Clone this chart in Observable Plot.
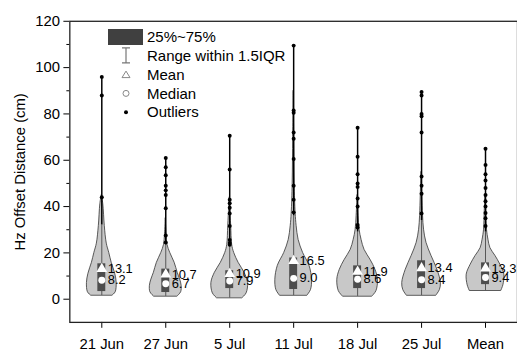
<!DOCTYPE html>
<html><head><meta charset="utf-8">
<script src="https://cdn.jsdelivr.net/npm/d3@7"></script>
<script src="https://cdn.jsdelivr.net/npm/@observablehq/plot@0.6"></script>
<style>
body{margin:0;background:#fff;overflow:hidden;font-family:"Liberation Sans",Arial,sans-serif}
#wrap{position:relative;width:517px;height:355px;overflow:hidden;background:#fff}
#legend{position:absolute;left:0;top:0;pointer-events:none}
</style></head><body>
<div id="wrap"><div id="chart"></div><svg id="legend" width="517" height="355"></svg></div>
<script>
// ---- data ----
const categories = ["21 Jun", "27 Jun", "5 Jul", "11 Jul", "18 Jul", "25 Jul", "Mean"];
const minValues    = [1.6, 1.2, 0.5, 1.6, 1.2, 1.6, 3.7];
const q1Values     = [3.3, 2.9, 4.6, 4.2, 4.6, 4.6, 6.3];
const medianValues = [8.2, 6.7, 7.9, 9.0, 8.6, 8.4, 9.4];
const meanValues   = [13.1, 10.7, 10.9, 16.5, 11.9, 13.4, 13.3];
const q3Values     = [15.3, 13.0, 12.3, 17.8, 14.4, 16.6, 15.7];
const whiskerHigh  = [32, 23.5, 23, 36, 29, 34, 29];
const maxValues    = [96, 61, 70.6, 109.5, 74, 89.5, 65];

const outliers21Jun = [44, 88, 96];
const outliers27Jun = [24.5, 27.5, 39.3, 45, 47, 49, 53.5, 57, 61];
const outliers5Jul  = [23.5, 24.3, 25.6, 31.6, 37, 39.5, 41.4, 43, 56, 70.6];
const outliers11Jul = [37.5, 43, 49, 60.5, 69.3, 72, 80.5, 81.5, 109.5];
const outliers18Jul = [31, 32, 40, 43.5, 48.5, 50, 54, 61.5, 74];
const outliers25Jul = [37, 45.5, 49, 53, 72, 79, 80, 88, 89.5];
const outliersMean  = [31.6, 35, 37.2, 40, 42.3, 45, 48, 51.3, 54, 58, 65];
const outlierLists = [outliers21Jun, outliers27Jun, outliers5Jul, outliers11Jul, outliers18Jul, outliers25Jul, outliersMean];

// violin profiles: [value, density]
const violin21Jun = [[1.6,11],[3,14],[7,15],[11,13.5],[15.7,10],[20,7.5],[24,5],[31.6,3],[41,1.5],[45,0]];
const violin27Jun = [[1.2,12],[3,15.5],[5.8,16],[8.5,14.5],[11.4,12],[15.7,9],[20,4.5],[23.4,1.8],[28,0.8],[35,0]];
const violin5Jul  = [[0.5,13],[2.5,17],[7,18.5],[11.4,15],[15.7,9],[20,4.5],[23.4,2.5],[31.6,1.5],[40,0.5],[44,0]];
const violin11Jul = [[1.6,14],[4,17.5],[8.4,18.5],[14.4,16],[20,9.5],[25.6,5],[31.6,3],[37,2],[50,1],[70,0.5],[90,0]];
const violin18Jul = [[1.2,15],[3.5,19],[8.4,20.5],[12.7,18],[17,13],[21.3,7],[25.6,4],[30,2],[36,1],[45,0]];
const violin25Jul = [[1.6,15],[4,18.5],[7,19.5],[12.7,16],[18.7,10],[24.3,5],[30,2.5],[36,1.5],[45,0.8],[55,0]];
const violinMean  = [[3.7,16],[6,18],[10.6,19],[14.9,15],[18.7,10],[22,5],[25.6,3],[30,1.5],[38,0.8],[45,0]];
const violinLists = [violin21Jun, violin27Jun, violin5Jul, violin11Jul, violin18Jul, violin25Jul, violinMean];

const yMajorTicks = [0, 20, 40, 60, 80, 100, 120];
const yMinorTicks = [10, 30, 50, 70, 90, 110];
const legendLabels = ["25%~75%", "Range within 1.5IQR", "Mean", "Median", "Outliers"];

// ---- tables ----
const densityUnit = 64.5;   // density units per category step
const boxHalf = 4 / densityUnit;
const stats = categories.map((c, i) => ({
  cat: c, xi: i, min: minValues[i], q1: q1Values[i], median: medianValues[i],
  mean: meanValues[i], q3: q3Values[i], hi: whiskerHigh[i], max: maxValues[i]
}));
const outlierRows = outlierLists.flatMap((arr, i) => arr.map(v => ({cat: categories[i], xi: i, v})));
const violinRows = violinLists.flatMap((arr, i) => arr.map(([v, w]) => ({cat: categories[i], xi: i, v, w: w / densityUnit})));

const chart = Plot.plot({
  width: 522, height: 355,
  marginLeft: 70, marginRight: 0, marginTop: 21, marginBottom: 30,
  style: {fontFamily: "'Liberation Sans', Arial, sans-serif", fontSize: "15px", color: "#000", background: "transparent"},
  x: {domain: [-0.5, 6.5]},
  y: {domain: [-10, 120]},
  marks: [
    Plot.axisY({ticks: yMinorTicks, tickSize: 3, tickFormat: () => "", label: null}),
    Plot.axisY({ticks: yMajorTicks, tickSize: 6, tickPadding: 4, label: "Hz Offset Distance (cm)",
      labelAnchor: "center", labelArrow: "none", labelOffset: 56}),
    Plot.axisX({ticks: d3.range(categories.length), tickFormat: i => categories[i], tickSize: 6, tickPadding: 10, label: null}),
    Plot.areaX(violinRows, {y: "v", x1: d => d.xi - d.w, x2: d => d.xi + d.w, z: "cat",
      curve: "catmull-rom", fill: "#c8c8c8", stroke: "#333", strokeWidth: 0.8}),
    Plot.ruleX(stats, {x: "xi", y1: "min", y2: "hi", stroke: "#555", strokeWidth: 1}),
    Plot.ruleX(stats, {x: "xi", y1: "hi", y2: "max", stroke: "#000", strokeWidth: 1.5}),
    Plot.dot(outlierRows, {x: "xi", y: "v", r: 2, fill: "#000"}),
    Plot.rect(stats, {x1: d => d.xi - boxHalf, x2: d => d.xi + boxHalf, y1: "q1", y2: "q3", fill: "#4d4d4d"}),
    Plot.dot(stats, {x: "xi", y: "mean", symbol: "triangle", r: 4, fill: "#fff"}),
    Plot.dot(stats, {x: "xi", y: "median", r: 3.5, fill: "#fff"}),
    Plot.text(stats, {x: "xi", y: "mean", text: d => d.mean.toFixed(1), dx: 6, textAnchor: "start", fontSize: 13}),
    Plot.text(stats, {x: "xi", y: "median", text: d => d.median.toFixed(1), dx: 6, textAnchor: "start", fontSize: 13}),
    Plot.frame({stroke: "#222", strokeWidth: 1.3})
  ]
});
document.getElementById("chart").appendChild(chart);

// ---- legend ----
const lg = d3.select("#legend");
const lx = 126, ly0 = 37, step = 18.8;
lg.append("rect").attr("x", 108).attr("y", 29).attr("width", 35).attr("height", 16).attr("fill", "#404040");
const iy = ly0 + step;
lg.append("path").attr("d", `M${lx-4},${iy-8}H${lx+4}M${lx},${iy-8}V${iy+7}M${lx-4},${iy+7}H${lx+4}`)
  .attr("stroke", "#777").attr("stroke-width", 1.2).attr("fill", "none");
const ty = ly0 + 2 * step;
lg.append("path").attr("d", `M${lx},${ty-3.5}L${lx+4},${ty+3}L${lx-4},${ty+3}Z`).attr("fill", "none").attr("stroke", "#888");
lg.append("circle").attr("cx", lx).attr("cy", ly0 + 3 * step).attr("r", 3).attr("fill", "none").attr("stroke", "#888");
lg.append("circle").attr("cx", lx).attr("cy", ly0 + 4 * step).attr("r", 2).attr("fill", "#000");
legendLabels.forEach((t, i) => {
  lg.append("text").attr("x", 147).attr("y", ly0 + i * step).attr("dy", "0.35em")
    .attr("font-size", 15).attr("font-family", "'Liberation Sans', Arial, sans-serif").attr("fill", "#000").text(t);
});
</script>
</body></html>
